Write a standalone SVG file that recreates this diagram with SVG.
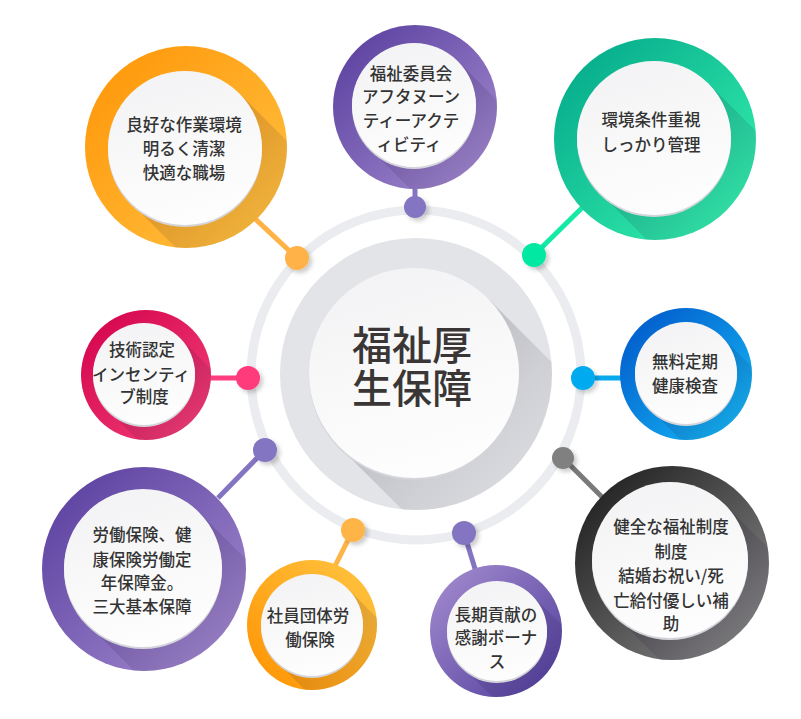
<svg xmlns="http://www.w3.org/2000/svg" width="801" height="719" viewBox="0 0 801 719">
<defs>
<style>
.t{font-family:"Noto Sans CJK JP","Noto Sans CJK SC",sans-serif;font-size:16.5px;fill:#333;text-anchor:middle;font-weight:500}
.c{font-size:40px;fill:#3a3636}
.wh{fill:url(#gw)}
.rim{fill:#d4d5da}
.ls{fill:url(#gs)}
.con{stroke-width:5;fill:none}
.dot{filter:url(#ds)}
</style>
<linearGradient id="gw" x1="0" y1="0" x2="0.3" y2="1"><stop offset="0" stop-color="#f2f2f4"/><stop offset="1" stop-color="#fdfdfd"/></linearGradient>
<linearGradient id="gs" x1="0" y1="0" x2="1" y2="1"><stop offset="0.2" stop-color="#1a0830" stop-opacity="0.15"/><stop offset="0.75" stop-color="#1a0830" stop-opacity="0"/></linearGradient>
<linearGradient id="gsc" x1="0" y1="0" x2="1" y2="1"><stop offset="0.2" stop-color="#9a9aa2" stop-opacity="0.55"/><stop offset="0.7" stop-color="#c8c8cc" stop-opacity="0"/></linearGradient>
<linearGradient id="gOr" x1="0" y1="0" x2="1" y2="1"><stop offset="0" stop-color="#ff9406"/><stop offset="1" stop-color="#ffc444"/></linearGradient>
<linearGradient id="gOr2" x1="0" y1="1" x2="1" y2="0"><stop offset="0" stop-color="#ff9200"/><stop offset="1" stop-color="#ffc643"/></linearGradient>
<linearGradient id="gPu" x1="0" y1="0" x2="1" y2="1"><stop offset="0" stop-color="#553b9c"/><stop offset="1" stop-color="#a88fd2"/></linearGradient>
<linearGradient id="gPu2" x1="0" y1="0" x2="1" y2="1"><stop offset="0" stop-color="#a88fd2"/><stop offset="1" stop-color="#4b3a98"/></linearGradient>
<linearGradient id="gGr" x1="0" y1="0" x2="1" y2="1"><stop offset="0" stop-color="#00a488"/><stop offset="1" stop-color="#3af7b0"/></linearGradient>
<linearGradient id="gRe" x1="0" y1="0" x2="1" y2="1"><stop offset="0" stop-color="#d2004a"/><stop offset="1" stop-color="#f4437a"/></linearGradient>
<linearGradient id="gBl" x1="0" y1="0" x2="1" y2="1"><stop offset="0" stop-color="#0052c8"/><stop offset="1" stop-color="#16bff8"/></linearGradient>
<linearGradient id="gDk" x1="0" y1="0" x2="1" y2="1"><stop offset="0" stop-color="#161616"/><stop offset="1" stop-color="#909090"/></linearGradient>
<path id="sh" d="M0.7071 -0.7071 L-0.7071 0.7071 L1.2929 2.7071 L2.7071 1.2929 Z"/>
<filter id="ds" x="-50%" y="-50%" width="200%" height="200%"><feDropShadow dx="3" dy="3" stdDeviation="2" flood-color="#000" flood-opacity="0.2"/></filter>
<clipPath id="c1"><circle cx="186" cy="147" r="101"/></clipPath>
<clipPath id="c2"><circle cx="415" cy="107" r="82"/></clipPath>
<clipPath id="c3"><circle cx="655" cy="139" r="101"/></clipPath>
<clipPath id="c4"><circle cx="146" cy="375" r="65"/></clipPath>
<clipPath id="c5"><circle cx="686" cy="374" r="66"/></clipPath>
<clipPath id="c6"><circle cx="144" cy="569" r="102"/></clipPath>
<clipPath id="c7"><circle cx="312" cy="625" r="65"/></clipPath>
<clipPath id="c8"><circle cx="496" cy="631" r="66"/></clipPath>
<clipPath id="c9"><circle cx="672" cy="563" r="97"/></clipPath>
<clipPath id="cc"><circle cx="416" cy="374" r="136"/></clipPath>
</defs>
<rect width="801" height="719" fill="#fff"/>
<circle id="ring" cx="416" cy="375" r="165" fill="none" stroke="#ebecef" stroke-width="9"/>
<g id="connectors">
<line class="con" x1="250" y1="214" x2="297" y2="258" stroke="#ffb246"/>
<line class="con" x1="415" y1="185" x2="415" y2="207" stroke="#8474c2"/>
<line class="con" x1="590" y1="200" x2="534" y2="255" stroke="#14eaa6"/>
<line class="con" x1="208" y1="378" x2="248" y2="378" stroke="#ff3d7f"/>
<line class="con" x1="624" y1="378" x2="583" y2="378" stroke="#0aa9ee"/>
<line class="con" x1="265" y1="450" x2="218" y2="498" stroke="#8474c2"/>
<line class="con" x1="353" y1="530" x2="333" y2="570" stroke="#ffb446"/>
<line class="con" x1="464" y1="533" x2="476" y2="572" stroke="#8474c2"/>
<line class="con" x1="563" y1="458" x2="608" y2="503" stroke="#7a7a7a"/>
<circle class="dot" cx="297" cy="258" r="12" fill="#ffb246"/>
<circle class="dot" cx="415" cy="207" r="11" fill="#8474c2"/>
<circle class="dot" cx="534" cy="255" r="12" fill="#06e8a2"/>
<circle class="dot" cx="248" cy="378" r="12" fill="#ff3a7c"/>
<circle class="dot" cx="583" cy="378" r="12" fill="#05aaee"/>
<circle class="dot" cx="265" cy="450" r="12" fill="#8474c2"/>
<circle class="dot" cx="353" cy="530" r="12" fill="#ffb446"/>
<circle class="dot" cx="464" cy="533" r="12" fill="#8474c2"/>
<circle class="dot" cx="563" cy="458" r="11" fill="#808080"/>
</g>
<g id="center">
<circle cx="416" cy="374" r="136" fill="#e3e4e8"/>
<g clip-path="url(#cc)"><use href="#sh" transform="translate(414 373) scale(105)" fill="url(#gsc)"/></g>
<circle cx="414" cy="375" r="105" class="rim"/>
<circle cx="414" cy="373" r="105" class="wh"/>
<text class="t c" x="412" y="360">福祉厚</text>
<text class="t c" x="412" y="403">生保障</text>
</g>
<g id="n1">
<circle cx="186" cy="147" r="101" fill="url(#gOr)"/>
<g clip-path="url(#c1)"><use href="#sh" transform="translate(185 148) scale(77)" class="ls"/></g>
<circle cx="185" cy="150" r="77" class="rim"/>
<circle cx="185" cy="148" r="77" class="wh"/>
<text class="t" x="184" y="131">良好な作業環境</text>
<text class="t" x="184" y="155">明るく清潔</text>
<text class="t" x="184" y="179">快適な職場</text>
</g>
<g id="n2">
<circle cx="415" cy="107" r="82" fill="url(#gPu)"/>
<g clip-path="url(#c2)"><use href="#sh" transform="translate(414 105) scale(62)" class="ls"/></g>
<circle cx="414" cy="107" r="62" class="rim"/>
<circle cx="414" cy="105" r="62" class="wh"/>
<text class="t" x="411" y="80">福祉委員会</text>
<text class="t" x="411" y="103">アフタヌーン</text>
<text class="t" x="411" y="127">ティーアクテ</text>
<text class="t" x="409" y="151">ィビティ</text>
</g>
<g id="n3">
<circle cx="655" cy="139" r="101" fill="url(#gGr)"/>
<g clip-path="url(#c3)"><use href="#sh" transform="translate(654 138) scale(77)" class="ls"/></g>
<circle cx="654" cy="140" r="77" class="rim"/>
<circle cx="654" cy="138" r="77" class="wh"/>
<text class="t" x="651" y="126">環境条件重視</text>
<text class="t" x="651" y="151">しっかり管理</text>
</g>
<g id="n4">
<circle cx="146" cy="375" r="65" fill="url(#gRe)"/>
<g clip-path="url(#c4)"><use href="#sh" transform="translate(144 374) scale(51)" class="ls"/></g>
<circle cx="144" cy="376" r="51" class="rim"/>
<circle cx="144" cy="374" r="51" class="wh"/>
<text class="t" x="142" y="356">技術認定</text>
<text class="t" x="141" y="381">インセンティ</text>
<text class="t" x="144" y="403">ブ制度</text>
</g>
<g id="n5">
<circle cx="686" cy="374" r="66" fill="url(#gBl)"/>
<g clip-path="url(#c5)"><use href="#sh" transform="translate(686 373) scale(51)" class="ls"/></g>
<circle cx="686" cy="375" r="51" class="rim"/>
<circle cx="686" cy="373" r="51" class="wh"/>
<text class="t" x="685" y="368">無料定期</text>
<text class="t" x="685" y="392">健康検査</text>
</g>
<g id="n6">
<circle cx="144" cy="569" r="102" fill="url(#gPu)"/>
<g clip-path="url(#c6)"><use href="#sh" transform="translate(143 568) scale(79)" class="ls"/></g>
<circle cx="143" cy="570" r="79" class="rim"/>
<circle cx="143" cy="568" r="79" class="wh"/>
<text class="t" x="142" y="541">労働保険、健</text>
<text class="t" x="142" y="566">康保険労働定</text>
<text class="t" x="142" y="589">年保障金。</text>
<text class="t" x="142" y="613">三大基本保障</text>
</g>
<g id="n7">
<circle cx="312" cy="625" r="65" fill="url(#gOr2)"/>
<g clip-path="url(#c7)"><use href="#sh" transform="translate(312 625) scale(51)" class="ls"/></g>
<circle cx="312" cy="627" r="51" class="rim"/>
<circle cx="312" cy="625" r="51" class="wh"/>
<text class="t" x="308" y="622">社員団体労</text>
<text class="t" x="310" y="646">働保険</text>
</g>
<g id="n8">
<circle cx="496" cy="631" r="66" fill="url(#gPu2)"/>
<g clip-path="url(#c8)"><use href="#sh" transform="translate(497 631) scale(50)" class="ls"/></g>
<circle cx="497" cy="633" r="50" class="rim"/>
<circle cx="497" cy="631" r="50" class="wh"/>
<text class="t" x="496" y="621">長期貢献の</text>
<text class="t" x="496" y="644">感謝ボーナ</text>
<text class="t" x="497" y="668">ス</text>
</g>
<g id="n9">
<circle cx="672" cy="563" r="97" fill="url(#gDk)"/>
<g clip-path="url(#c9)"><use href="#sh" transform="translate(670 560) scale(78)" class="ls"/></g>
<circle cx="670" cy="562" r="78" class="rim"/>
<circle cx="670" cy="560" r="78" class="wh"/>
<text class="t" x="671" y="533">健全な福祉制度</text>
<text class="t" x="671" y="558">制度</text>
<text class="t" x="671" y="582">結婚お祝い/死</text>
<text class="t" x="671" y="607">亡給付優しい補</text>
<text class="t" x="671" y="630">助</text>
</g>
</svg>
